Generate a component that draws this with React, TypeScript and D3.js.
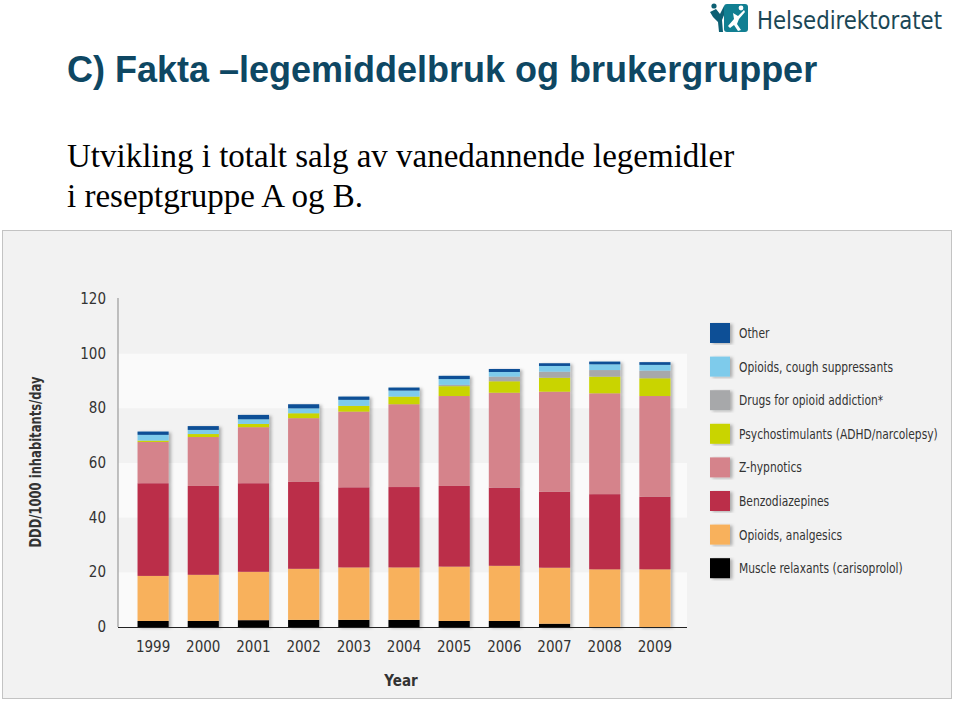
import React from 'react';
import * as d3 from 'd3';

const YEARS = ['1999', '2000', '2001', '2002', '2003', '2004', '2005', '2006', '2007', '2008', '2009'];

// stacked bottom -> top, DDD/1000 inhabitants/day
const MUSCLE_RELAXANTS = [2.2, 2.2, 2.5, 2.6, 2.6, 2.6, 2.2, 2.2, 1.2, 0, 0];
const OPIOIDS_ANALGESICS = [16.5, 16.9, 17.7, 18.7, 19.2, 19.2, 19.9, 20.2, 20.5, 21.1, 21.1];
const BENZODIAZEPINES = [33.9, 32.5, 32.4, 31.9, 29.3, 29.4, 29.5, 28.6, 27.8, 27.5, 26.6];
const Z_HYPNOTICS = [15.1, 17.9, 20.5, 23.2, 27.7, 30.3, 32.9, 34.7, 36.6, 36.9, 36.8];
const PSYCHOSTIMULANTS = [0.5, 1.1, 1.2, 1.8, 2.1, 2.8, 3.6, 4.2, 5.1, 6.1, 6.5];
const OPIOID_ADDICTION = [0, 0, 0, 0, 0, 0, 0.5, 1.7, 2.2, 2.4, 2.8];
const OPIOIDS_COUGH = [2.1, 1.5, 1.7, 1.8, 2.2, 2.2, 2.1, 1.7, 2.1, 2.1, 2.1];
const OTHER = [1.2, 1.4, 1.6, 1.5, 1.2, 1.1, 1.2, 1.1, 1.0, 1.0, 1.0];

const Y_TICKS = [0, 20, 40, 60, 80, 100, 120];

const SERIES = [
  { key: 'muscle', label: 'Muscle relaxants (carisoprolol)', color: '#050505', values: MUSCLE_RELAXANTS },
  { key: 'opA', label: 'Opioids, analgesics', color: '#f8b15c', values: OPIOIDS_ANALGESICS },
  { key: 'benzo', label: 'Benzodiazepines', color: '#bb2d4a', values: BENZODIAZEPINES },
  { key: 'z', label: 'Z-hypnotics', color: '#d5838b', values: Z_HYPNOTICS },
  { key: 'psy', label: 'Psychostimulants (ADHD/narcolepsy)', color: '#c9d400', values: PSYCHOSTIMULANTS },
  { key: 'add', label: 'Drugs for opioid addiction*', color: '#a7a8aa', values: OPIOID_ADDICTION },
  { key: 'cough', label: 'Opioids, cough suppressants', color: '#7ecbeb', values: OPIOIDS_COUGH },
  { key: 'other', label: 'Other', color: '#0b4f96', values: OTHER },
];

const CHART_FONT = '"DejaVu Sans Condensed", "Liberation Sans Narrow", "Roboto", sans-serif';

export default function App() {
  const rows = YEARS.map((year, i) => {
    const row: Record<string, any> = { year };
    SERIES.forEach((s) => {
      row[s.key] = s.values[i];
    });
    return row;
  });

  const stacked = d3.stack().keys(SERIES.map((s) => s.key))(rows as any);

  const x = d3.scaleBand().domain(YEARS).range([128, 680]).paddingInner(0.38).paddingOuter(0.19);
  const y = d3.scaleLinear().domain([0, 120]).range([627, 299]);

  const plotLeft = 118;
  const plotRight = 687;

  // white bands 0-20, 40-60, 80-100
  const bands = [0, 40, 80];

  const legendItems = [...SERIES].reverse();

  return (
    <div style={{ position: 'fixed', left: 0, top: 0 }}>
      <svg width={960} height={709} style={{ display: 'block', background: '#ffffff' }}>
        <defs>
          <filter id="shadow" x="-20%" y="-5%" width="150%" height="115%">
            <feDropShadow dx="2.5" dy="1" stdDeviation="1.6" floodColor="#000" floodOpacity="0.28" />
          </filter>
        </defs>

        {/* logo */}
        <g>
          <path d="M710,12 L716,9 L720,14 L724,6 L727,8 L722,20 L723,32 L719,32 L718,22 L713,17 Z" fill="#0d5f73" />
          <circle cx="714" cy="6" r="2.6" fill="#0d5f73" />
          <rect x={724} y={4} width={24} height={28} rx={3} fill="#117f92" />
          <path d="M728,26 L734,19 L733,13 L738,16 L744,10 L745,12 L739,19 L737,24 L741,30 L738,31 L734,25 L730,28 Z" fill="#ffffff" />
          <circle cx="741" cy="8" r="2.4" fill="#ffffff" />
          <text x={757} y={29} fontFamily={CHART_FONT} fontSize={25} fill="#1b4756" textLength={185} lengthAdjust="spacingAndGlyphs">
            Helsedirektoratet
          </text>
        </g>

        <text x={67} y={82} fontFamily='"Liberation Sans", Arial, sans-serif' fontWeight="bold" fontSize={36} fill="#0e4763">
          C) Fakta –legemiddelbruk og brukergrupper
        </text>
        <text fontFamily='"Liberation Serif", "Times New Roman", serif' fontSize={33} fill="#000">
          <tspan x={67} y={167}>Utvikling i totalt salg av vanedannende legemidler</tspan>
          <tspan x={67} y={207}>i reseptgruppe A og B.</tspan>
        </text>

        {/* frame */}
        <rect x={2.5} y={230.5} width={949} height={468} fill="#f2f2f2" stroke="#c3c3c3" strokeWidth={1} />

        {/* plot background bands */}
        {bands.map((b) => (
          <rect key={b} x={plotLeft} y={y(b + 20)} width={plotRight - plotLeft} height={y(b) - y(b + 20)} fill="#fafafa" />
        ))}

        {/* bars */}
        <g filter="url(#shadow)">
          {stacked.map((layer, li) => (
            <g key={SERIES[li].key} fill={SERIES[li].color}>
              {layer.map((d, i) =>
                d[1] - d[0] > 0 ? (
                  <rect
                    key={YEARS[i]}
                    x={x(YEARS[i])}
                    y={y(d[1])}
                    width={x.bandwidth()}
                    height={y(d[0]) - y(d[1])}
                  />
                ) : null
              )}
            </g>
          ))}
        </g>

        {/* axes */}
        <line x1={plotLeft} x2={plotLeft} y1={298} y2={627} stroke="#9a9a9a" strokeWidth={1.2} />
        <line x1={plotLeft} x2={plotRight} y1={627.5} y2={627.5} stroke="#222" strokeWidth={1.2} />

        {Y_TICKS.map((t) => (
          <text key={t} x={106} y={y(t) + 5} textAnchor="end" fontFamily={CHART_FONT} fontSize={15} fill="#333">
            {t}
          </text>
        ))}
        {YEARS.map((yr) => (
          <text key={yr} x={(x(yr) as number) + x.bandwidth() / 2} y={652} textAnchor="middle" fontFamily={CHART_FONT} fontSize={15} fill="#333">
            {yr}
          </text>
        ))}
        <text x={401} y={686} textAnchor="middle" fontFamily={CHART_FONT} fontWeight="bold" fontSize={15} fill="#333">
          Year
        </text>
        <text
          transform="translate(41,462) rotate(-90)"
          textAnchor="middle"
          fontFamily={CHART_FONT}
          fontWeight="bold"
          fontSize={15}
          fill="#333"
          textLength={171}
          lengthAdjust="spacingAndGlyphs"
        >
          DDD/1000 inhabitants/day
        </text>

        {/* legend */}
        {legendItems.map((s, i) => (
          <g key={s.key} transform={`translate(710,${323 + i * 33.6})`}>
            <rect width={20} height={20} fill={s.color} filter="url(#shadow)" />
            <text transform="translate(29,15) scale(0.85,1)" fontFamily={CHART_FONT} fontSize={14} fill="#333">
              {s.label}
            </text>
          </g>
        ))}
      </svg>
    </div>
  );
}
